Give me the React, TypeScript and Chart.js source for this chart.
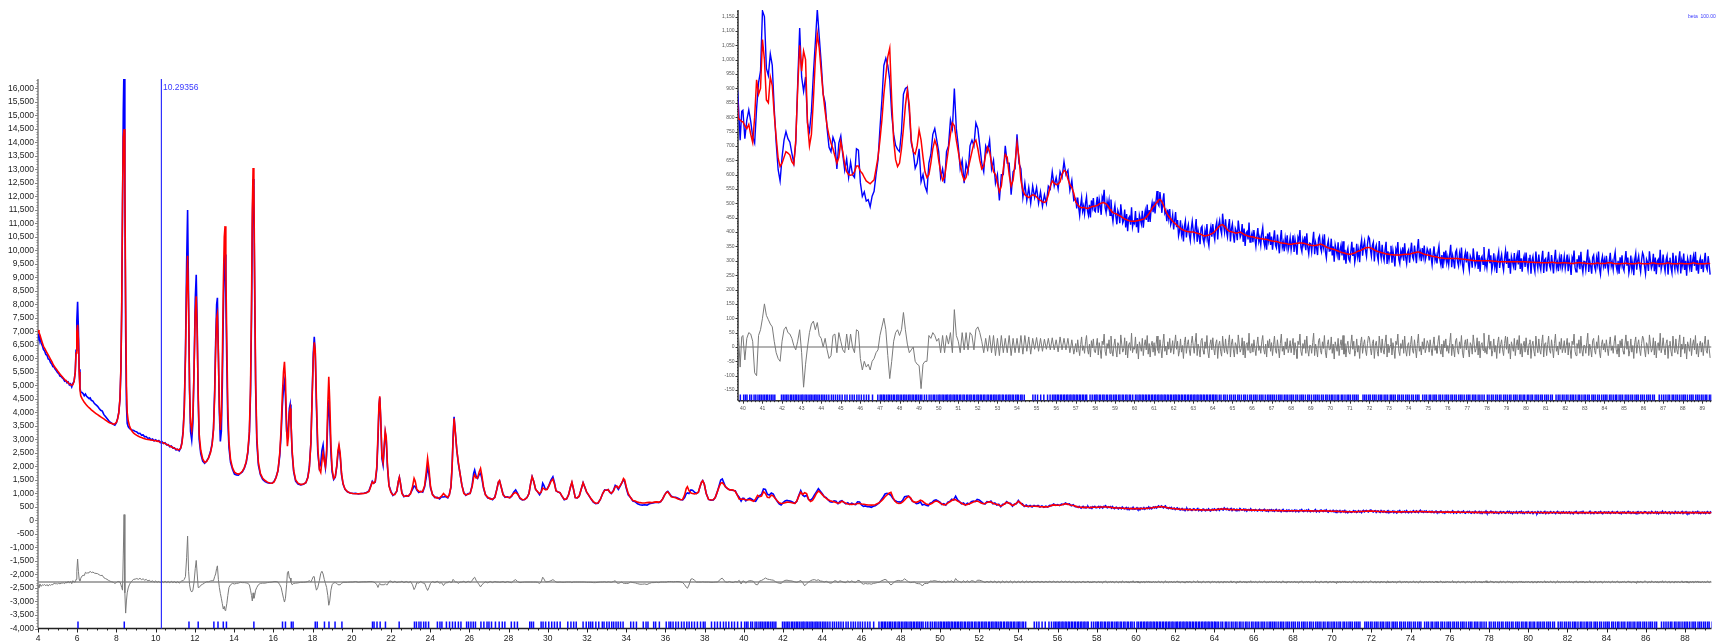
import React, { useEffect, useRef } from 'react';
import { Chart, registerables } from 'chart.js';
Chart.register(...registerables);

// ---------------- DATA (2-theta, observed, calculated) ----------------
const X_1 = [
  4.00, 4.05, 4.10, 4.16, 4.22, 4.28, 4.34, 4.40, 4.46, 4.52,
  4.58, 4.64, 4.70, 4.76, 4.82, 4.88, 4.94, 5.00, 5.06, 5.12,
  5.18, 5.24, 5.30, 5.36, 5.42, 5.48, 5.54, 5.60, 5.66, 5.72,
  5.78, 5.84, 5.90, 5.94, 5.98, 6.02, 6.06, 6.10, 6.14, 6.18,
  6.24, 6.30, 6.36, 6.42, 6.48, 6.54, 6.60, 6.66, 6.72, 6.80,
  6.88, 6.96, 7.04, 7.12, 7.20, 7.28, 7.36, 7.44, 7.52, 7.60,
  7.68, 7.76, 7.84, 7.92, 8.00, 8.06, 8.12, 8.18, 8.23, 8.27,
  8.31, 8.35, 8.39, 8.43, 8.47, 8.51, 8.55, 8.60, 8.66, 8.72,
];
const OBS_1 = [
  6920, 6750, 6800, 6560, 6480, 6330, 6280, 6150, 6120, 5980,
  5960, 5850, 5800, 5700, 5680, 5600, 5540, 5470, 5440, 5350,
  5330, 5280, 5240, 5160, 5180, 5100, 5130, 5020, 5060, 4950,
  5080, 5150, 5500, 6300, 7400, 8100, 7100, 5600, 4900, 4760,
  4740, 4700, 4620, 4680, 4600, 4560, 4520, 4540, 4450, 4420,
  4330, 4280, 4230, 4150, 4080, 4050, 3920, 3850, 3780, 3700,
  3640, 3600, 3560, 3530, 3620, 3780, 4000, 4500, 5600, 7800,
  11500, 15200, 17000, 12200, 7000, 4300, 3600, 3480, 3420, 3380,
];
const CALC_1 = [
  7050, 6960, 6870, 6720, 6580, 6450, 6370, 6290, 6210, 6130,
  6050, 5970, 5890, 5800, 5720, 5660, 5600, 5540, 5480, 5420,
  5370, 5320, 5270, 5220, 5180, 5140, 5100, 5060, 5030, 5010,
  5030, 5150, 5500, 6200, 7000, 7250, 6700, 5500, 4850, 4620,
  4520, 4450, 4380, 4320, 4270, 4220, 4180, 4140, 4100, 4050,
  4000, 3960, 3920, 3880, 3840, 3800, 3760, 3720, 3680, 3640,
  3610, 3590, 3570, 3580, 3640, 3760, 3980, 4500, 5700, 8000,
  11800, 14200, 14500, 12600, 8150, 5000, 4000, 3700, 3520, 3400,
];

const X_2 = [
  8.80, 8.88, 8.96, 9.04, 9.12, 9.20, 9.28, 9.36, 9.44, 9.52,
  9.60, 9.68, 9.76, 9.84, 9.92, 10.00, 10.08, 10.16, 10.24, 10.32,
  10.40, 10.48, 10.56, 10.64, 10.72, 10.80, 10.88, 10.96, 11.04, 11.12,
  11.20, 11.28, 11.34, 11.40, 11.46, 11.52, 11.58, 11.63, 11.68, 11.73,
  11.78, 11.84, 11.90, 11.96, 12.02, 12.07, 12.12, 12.17, 12.22, 12.30,
  12.40, 12.50, 12.60, 12.70, 12.80, 12.88, 12.95, 13.01, 13.06, 13.11,
  13.15, 13.20, 13.25, 13.30, 13.35, 13.40, 13.45, 13.50, 13.54, 13.58,
  13.63, 13.68, 13.74, 13.82, 13.92, 14.02, 14.12, 14.22, 14.32, 14.42,
  14.52, 14.62, 14.70, 14.78, 14.84, 14.89, 14.93, 14.97, 15.01, 15.05,
  15.10, 15.16,
];
const OBS_2 = [
  3350, 3330, 3300, 3280, 3220, 3230, 3160, 3170, 3100, 3110,
  3040, 3060, 2990, 3020, 2950, 2990, 2930, 2960, 2880, 2920,
  2850, 2880, 2800, 2810, 2730, 2760, 2680, 2690, 2610, 2640,
  2580, 2690, 2900, 3300, 4200, 6200, 9500, 11500, 8200, 4800,
  3300, 2980, 3600, 5600, 8200, 9100, 7200, 4500, 3000, 2480,
  2200, 2120, 2200, 2330, 2560, 2850, 3400, 4800, 6600, 8000,
  8250, 6200, 4000, 2930, 3300, 5000, 7600, 9600, 9850, 8300,
  5800, 3700, 2700, 2150, 1900, 1720, 1690, 1680, 1740, 1800,
  1930, 2150, 2500, 3200, 4700, 7500, 10800, 12650, 11800, 8500,
  4900, 2900,
];
const CALC_2 = [
  3300, 3230, 3190, 3150, 3120, 3090, 3070, 3050, 3030, 3010,
  3000, 2990, 2980, 2970, 2960, 2950, 2940, 2930, 2910, 2890,
  2870, 2850, 2820, 2790, 2760, 2730, 2700, 2670, 2645, 2625,
  2620, 2680, 2850, 3250, 4100, 6000, 8600, 9800, 7800, 4900,
  3600, 3350, 3900, 5600, 7700, 8300, 6900, 4700, 3200, 2600,
  2280, 2150, 2190, 2320, 2520, 2800, 3350, 4600, 6300, 7500,
  7650, 6100, 4200, 3350, 3900, 5800, 8600, 10500, 10900, 9300,
  6600, 4200, 2900, 2250, 1950, 1790, 1740, 1720, 1750, 1820,
  1950, 2180, 2550, 3300, 5000, 8000, 11500, 13050, 12400, 9000,
  5200, 3100,
];

const X_3 = [
  15.24, 15.34, 15.46, 15.58, 15.70, 15.82, 15.94, 16.04, 16.14, 16.24,
  16.33, 16.40, 16.46, 16.52, 16.57, 16.62, 16.68, 16.72, 16.77, 16.82,
  16.86, 16.90, 16.96, 17.04, 17.14, 17.26, 17.40, 17.54, 17.66, 17.76,
  17.84, 17.92, 17.98, 18.04, 18.09, 18.14, 18.20, 18.27, 18.35, 18.42,
  18.48, 18.54, 18.60, 18.66, 18.72, 18.78, 18.83, 18.88, 18.94, 19.00,
  19.08, 19.16, 19.24, 19.30, 19.35, 19.41, 19.48, 19.56, 19.66, 19.78,
  19.92, 20.06, 20.20, 20.34, 20.48, 20.62, 20.76, 20.88,
];
const OBS_3 = [
  2050, 1700, 1520, 1440, 1400, 1380, 1380, 1450, 1600, 1850,
  2400, 3200, 4200, 4900, 5140, 4600, 3300, 3100, 3500, 4150,
  4300, 3700, 2500, 1800, 1460, 1350, 1320, 1340, 1400, 1600,
  2000, 2900, 4600, 6200, 6800, 6200, 4200, 2500, 1950, 2100,
  2600, 2800, 2300, 1950, 2400, 3800, 4460, 3700, 2500, 1800,
  1520, 1600, 2000, 2500, 2700, 2400, 1700, 1350, 1150, 1060,
  1020, 1000, 1010, 980, 1000, 1010, 1040, 1100,
];
const CALC_3 = [
  2150, 1750, 1560, 1480, 1420, 1390, 1380, 1430, 1580, 1850,
  2500, 3400, 4600, 5500, 5880, 5200, 3400, 2750, 3100, 4000,
  4150, 3700, 2600, 1850, 1500, 1380, 1330, 1350, 1400, 1580,
  1950, 2900, 4500, 6000, 6600, 6300, 4500, 2700, 1900, 1780,
  2200, 2500, 2200, 2000, 2600, 4300, 5320, 4400, 2800, 1900,
  1550, 1620, 2050, 2600, 2800, 2500, 1750, 1360, 1160, 1070,
  1020, 1000, 990, 990, 995, 1000, 1030, 1080,
];

const X_4 = [
  20.98, 21.05, 21.12, 21.20, 21.28, 21.34, 21.39, 21.43, 21.48, 21.54,
  21.60, 21.66, 21.71, 21.76, 21.82, 21.90, 22.00, 22.10, 22.20, 22.30,
  22.38, 22.43, 22.48, 22.56, 22.66, 22.78, 22.90, 23.00, 23.10, 23.18,
  23.24, 23.32, 23.42, 23.52, 23.62, 23.72, 23.80, 23.87, 23.94, 24.02,
  24.12, 24.24, 24.36, 24.48, 24.58, 24.68, 24.78, 24.90, 24.98, 25.06,
  25.12, 25.17, 25.22, 25.28, 25.36, 25.44, 25.52, 25.62, 25.72, 25.82,
  25.94, 26.04, 26.14, 26.22, 26.27, 26.34, 26.42, 26.50, 26.57, 26.64,
  26.72, 26.82, 26.94, 27.06, 27.18, 27.30, 27.40, 27.48, 27.54, 27.62,
  27.72, 27.82, 27.94,
];
const OBS_4 = [
  1300, 1450, 1380, 1420, 1900, 3000, 4200, 4550, 3700, 2300,
  2050, 2700, 3250, 3000, 2000, 1300, 1080, 930, 990, 1080,
  1450, 1600, 1400, 1030, 880, 920, 900, 1010, 1150, 1280,
  1250, 1130, 1040, 1080, 1050, 1250, 1600, 1990, 1700, 1200,
  970, 850, 860, 800, 880, 870, 890, 840, 970, 1230,
  2000, 3100, 3840, 3300, 2600, 2100, 1750, 1300, 1030, 930,
  1000, 1000, 1300, 1750, 1870, 1650, 1560, 1700, 1750, 1550,
  1200, 960, 830, 820, 770, 870, 1150, 1420, 1470, 1250,
  970, 860, 880,
];
const CALC_4 = [
  1280, 1430, 1380, 1450, 2000, 3200, 4300, 4600, 3800, 2400,
  2150, 2800, 3310, 3100, 2100, 1280, 1040, 950, 960, 1100,
  1450, 1600, 1400, 1000, 900, 900, 920, 990, 1250, 1560,
  1450, 1150, 1080, 1060, 1080, 1300, 1800, 2300, 1900, 1250,
  950, 870, 830, 840, 900, 1000, 920, 860, 950, 1250,
  2000, 3000, 3780, 3300, 2600, 2150, 1750, 1300, 1000, 950,
  970, 1010, 1250, 1600, 1690, 1580, 1580, 1800, 1930, 1650,
  1250, 950, 860, 800, 790, 850, 1150, 1420, 1480, 1250,
  950, 880, 860,
];

const X_5 = [
  28.06, 28.16, 28.26, 28.36, 28.46, 28.58, 28.70, 28.82, 28.94, 29.04,
  29.12, 29.20, 29.28, 29.38, 29.48, 29.58, 29.66, 29.74, 29.80, 29.88,
  29.96, 30.06, 30.16, 30.26, 30.34, 30.42, 30.52, 30.62, 30.72, 30.84,
  30.96, 31.06, 31.16, 31.23, 31.30, 31.40, 31.50, 31.60, 31.70, 31.80,
  31.88, 31.98, 32.08, 32.20, 32.32, 32.44, 32.56, 32.68, 32.80, 32.90,
  33.00, 33.08, 33.16, 33.24, 33.34, 33.44, 33.52, 33.60, 33.70, 33.78,
  33.86, 33.92, 34.00,
];
const OBS_5 = [
  840, 900, 1050, 1130, 1000, 820, 760, 780, 850, 1000,
  1350, 1620, 1450, 1150, 1060, 950, 1050, 1380, 1300, 1150,
  1160, 1300, 1500, 1620, 1400, 1100, 1050, 1030, 900, 770,
  800, 950, 1250, 1400, 1200, 850, 840, 900, 1150, 1400,
  1250, 1050, 940, 800, 680, 620, 640, 780, 1000, 1130,
  1120, 1150, 1050, 1000, 1100, 1300, 1250, 1150, 1280, 1400,
  1500, 1450, 1200,
];
const CALC_5 = [
  850, 920, 1000, 1040, 980, 840, 770, 780, 850, 1000,
  1350, 1620, 1450, 1150, 1070, 1000, 1050, 1200, 1180, 1140,
  1150, 1280, 1450, 1530, 1350, 1100, 1060, 1030, 910, 780,
  800, 950, 1250, 1420, 1200, 850, 840, 900, 1150, 1400,
  1250, 1060, 950, 810, 700, 640, 650, 780, 1000, 1120,
  1130, 1140, 1050, 1010, 1080, 1250, 1280, 1200, 1300, 1400,
  1550, 1500, 1250,
];

const X_6 = [
  34.10, 34.22, 34.34, 34.46, 34.58, 34.70, 34.82, 34.94, 35.06, 35.18,
  35.30, 35.42, 35.54, 35.66, 35.76, 35.86, 35.96, 36.06, 36.12, 36.20,
  36.30, 36.40, 36.52, 36.64, 36.76, 36.88, 36.98, 37.06, 37.12, 37.20,
  37.30, 37.38, 37.48, 37.58, 37.68, 37.76, 37.84, 37.90, 37.98, 38.08,
  38.20, 38.32, 38.44, 38.54, 38.64, 38.74, 38.82, 38.90, 38.98, 39.06,
  39.16, 39.26, 39.36, 39.46, 39.56, 39.66, 39.76, 39.86, 39.94,
];
const OBS_6 = [
  950, 850, 720, 690, 620, 580, 570, 580, 570, 620,
  640, 660, 680, 660, 700, 800, 950, 1050, 1080, 1000,
  900, 870, 860, 820, 780, 760, 850, 990, 1020, 1000,
  1130, 1120, 1050, 1000, 1050, 1250, 1420, 1480, 1350, 1000,
  780, 750, 760, 850, 1050, 1300, 1500, 1540, 1400, 1250,
  1180, 1150, 1130, 1110, 1100, 950, 860, 720, 820,
];
const CALC_6 = [
  1000, 850, 740, 720, 680, 660, 650, 650, 660, 670,
  660, 680, 690, 680, 700, 800, 950, 1050, 1060, 980,
  880, 860, 840, 800, 770, 780, 950, 1180, 1250, 1110,
  1020, 1000, 980, 1000, 1050, 1250, 1420, 1470, 1350, 1000,
  780, 760, 770, 850, 1050, 1250, 1380, 1400, 1330, 1250,
  1190, 1130, 1140, 1130, 1080, 950, 796, 790, 785,
];

// 40.0 - 56.9, step 0.1
const X_7 = [
  40.0, 40.1, 40.2, 40.3, 40.4, 40.5, 40.6, 40.7, 40.8, 40.9,
  41.0, 41.1, 41.2, 41.3, 41.4, 41.5, 41.6, 41.7, 41.8, 41.9,
  42.0, 42.1, 42.2, 42.3, 42.4, 42.5, 42.6, 42.7, 42.8, 42.9,
  43.0, 43.1, 43.2, 43.3, 43.4, 43.5, 43.6, 43.7, 43.8, 43.9,
  44.0, 44.1, 44.2, 44.3, 44.4, 44.5, 44.6, 44.7, 44.8, 44.9,
  45.0, 45.1, 45.2, 45.3, 45.4, 45.5, 45.6, 45.7, 45.8, 45.9,
  46.0, 46.1, 46.2, 46.3, 46.4, 46.5, 46.6, 46.7, 46.8, 46.9,
  47.0, 47.1, 47.2, 47.3, 47.4, 47.5, 47.6, 47.7, 47.8, 47.9,
  48.0, 48.1, 48.2, 48.3, 48.4, 48.5, 48.6, 48.7, 48.8, 48.9,
  49.0, 49.1, 49.2, 49.3, 49.4, 49.5, 49.6, 49.7, 49.8, 49.9,
  50.0, 50.1, 50.2, 50.3, 50.4, 50.5, 50.6, 50.7, 50.8, 50.9,
  51.0, 51.1, 51.2, 51.3, 51.4, 51.5, 51.6, 51.7, 51.8, 51.9,
  52.0, 52.1, 52.2, 52.3, 52.4, 52.5, 52.6, 52.7, 52.8, 52.9,
  53.0, 53.1, 53.2, 53.3, 53.4, 53.5, 53.6, 53.7, 53.8, 53.9,
  54.0, 54.1, 54.2, 54.3, 54.4, 54.5, 54.6, 54.7, 54.8, 54.9,
  55.0, 55.1, 55.2, 55.3, 55.4, 55.5, 55.6, 55.7, 55.8, 55.9,
  56.0, 56.1, 56.2, 56.3, 56.4, 56.5, 56.6, 56.7, 56.8, 56.9,
];
const OBS_7 = [
  824, 725, 790, 825, 785, 732, 710, 830, 920, 960,
  1170, 1150, 970, 945, 1020, 980, 830, 710, 617, 578,
  660, 720, 750, 725, 713, 675, 640, 710, 920, 1110,
  940, 890, 940, 780, 750, 820, 950, 1060, 1175, 1080,
  988, 880, 850, 760, 695, 680, 730, 710, 620, 710,
  735, 670, 615, 655, 590, 643, 600, 590, 690, 685,
  572, 524, 540, 508, 513, 488, 525, 542, 600, 650,
  760, 860, 980, 1005, 980, 930, 810, 740, 702, 688,
  680, 750, 880, 900, 905, 820, 710, 680, 622, 640,
  690, 575, 600, 560, 540, 640, 670, 740, 760, 720,
  680, 590, 620, 570, 680, 700, 790, 760, 900, 760,
  700, 620, 650, 570, 640, 610, 700, 720, 700, 780,
  760, 700, 640, 610, 700, 680, 720, 620, 650, 570,
  600, 510, 600, 600, 700, 640, 640, 530, 610, 620,
  740, 640, 620, 520, 570, 510, 555, 500, 560, 520,
  555, 500, 540, 490, 530, 500, 560, 550, 610, 560,
  590, 550, 610, 590, 645, 600, 615, 545, 580, 510,
];
const CALC_7 = [
  784, 770, 760, 775, 740, 712, 800, 930, 880, 900,
  1070, 1000, 860, 850, 940, 910, 810, 730, 657, 628,
  640, 660, 680, 675, 668, 645, 635, 720, 900, 1050,
  960, 1030, 1000, 780, 700, 740, 860, 1000, 1090, 1040,
  958, 880, 820, 770, 735, 710, 690, 665, 640, 660,
  715, 680, 635, 610, 600, 598, 600, 610, 630, 630,
  612, 604, 590, 578, 573, 568, 575, 582, 620, 660,
  720, 790, 880, 945, 1010, 1040, 860, 720, 652, 628,
  640, 690, 760, 840, 895, 840, 720, 680, 672, 700,
  755, 720, 660, 610, 590, 600, 640, 690, 720, 700,
  650, 610, 580, 590, 640, 690, 740, 780, 770, 720,
  680, 640, 600, 580, 590, 620, 650, 680, 710, 720,
  690, 650, 620, 630, 670, 695, 680, 640, 610, 600,
  570, 540, 560, 620, 670, 660, 600, 560, 580, 640,
  710, 660, 580, 545, 530, 525, 520, 525, 530, 528,
  522, 515, 510, 505, 503, 508, 530, 560, 578, 570,
  565, 567, 575, 600, 615, 610, 585, 565, 555, 535,
];

// 57.00 - 89.40, step 0.05
const X_8 = [
  57.00, 57.05, 57.10, 57.15, 57.20, 57.25, 57.30, 57.35, 57.40, 57.45, 57.50, 57.55, 57.60, 57.65, 57.70, 57.75, 57.80, 57.85, 57.90, 57.95,
  58.00, 58.05, 58.10, 58.15, 58.20, 58.25, 58.30, 58.35, 58.40, 58.45, 58.50, 58.55, 58.60, 58.65, 58.70, 58.75, 58.80, 58.85, 58.90, 58.95,
  59.00, 59.05, 59.10, 59.15, 59.20, 59.25, 59.30, 59.35, 59.40, 59.45, 59.50, 59.55, 59.60, 59.65, 59.70, 59.75, 59.80, 59.85, 59.90, 59.95,
  60.00, 60.05, 60.10, 60.15, 60.20, 60.25, 60.30, 60.35, 60.40, 60.45, 60.50, 60.55, 60.60, 60.65, 60.70, 60.75, 60.80, 60.85, 60.90, 60.95,
  61.00, 61.05, 61.10, 61.15, 61.20, 61.25, 61.30, 61.35, 61.40, 61.45, 61.50, 61.55, 61.60, 61.65, 61.70, 61.75, 61.80, 61.85, 61.90, 61.95,
  62.00, 62.05, 62.10, 62.15, 62.20, 62.25, 62.30, 62.35, 62.40, 62.45, 62.50, 62.55, 62.60, 62.65, 62.70, 62.75, 62.80, 62.85, 62.90, 62.95,
  63.00, 63.05, 63.10, 63.15, 63.20, 63.25, 63.30, 63.35, 63.40, 63.45, 63.50, 63.55, 63.60, 63.65, 63.70, 63.75, 63.80, 63.85, 63.90, 63.95,
  64.00, 64.05, 64.10, 64.15, 64.20, 64.25, 64.30, 64.35, 64.40, 64.45, 64.50, 64.55, 64.60, 64.65, 64.70, 64.75, 64.80, 64.85, 64.90, 64.95,
  65.00, 65.05, 65.10, 65.15, 65.20, 65.25, 65.30, 65.35, 65.40, 65.45, 65.50, 65.55, 65.60, 65.65, 65.70, 65.75, 65.80, 65.85, 65.90, 65.95,
  66.00, 66.05, 66.10, 66.15, 66.20, 66.25, 66.30, 66.35, 66.40, 66.45, 66.50, 66.55, 66.60, 66.65, 66.70, 66.75, 66.80, 66.85, 66.90, 66.95,
  67.00, 67.05, 67.10, 67.15, 67.20, 67.25, 67.30, 67.35, 67.40, 67.45, 67.50, 67.55, 67.60, 67.65, 67.70, 67.75, 67.80, 67.85, 67.90, 67.95,
  68.00, 68.05, 68.10, 68.15, 68.20, 68.25, 68.30, 68.35, 68.40, 68.45, 68.50, 68.55, 68.60, 68.65, 68.70, 68.75, 68.80, 68.85, 68.90, 68.95,
  69.00, 69.05, 69.10, 69.15, 69.20, 69.25, 69.30, 69.35, 69.40, 69.45, 69.50, 69.55, 69.60, 69.65, 69.70, 69.75, 69.80, 69.85, 69.90, 69.95,
  70.00, 70.05, 70.10, 70.15, 70.20, 70.25, 70.30, 70.35, 70.40, 70.45, 70.50, 70.55, 70.60, 70.65, 70.70, 70.75, 70.80, 70.85, 70.90, 70.95,
  71.00, 71.05, 71.10, 71.15, 71.20, 71.25, 71.30, 71.35, 71.40, 71.45, 71.50, 71.55, 71.60, 71.65, 71.70, 71.75, 71.80, 71.85, 71.90, 71.95,
  72.00, 72.05, 72.10, 72.15, 72.20, 72.25, 72.30, 72.35, 72.40, 72.45, 72.50, 72.55, 72.60, 72.65, 72.70, 72.75, 72.80, 72.85, 72.90, 72.95,
  73.00, 73.05, 73.10, 73.15, 73.20, 73.25, 73.30, 73.35, 73.40, 73.45, 73.50, 73.55, 73.60, 73.65, 73.70, 73.75, 73.80, 73.85, 73.90, 73.95,
  74.00, 74.05, 74.10, 74.15, 74.20, 74.25, 74.30, 74.35, 74.40, 74.45, 74.50, 74.55, 74.60, 74.65, 74.70, 74.75, 74.80, 74.85, 74.90, 74.95,
  75.00, 75.05, 75.10, 75.15, 75.20, 75.25, 75.30, 75.35, 75.40, 75.45, 75.50, 75.55, 75.60, 75.65, 75.70, 75.75, 75.80, 75.85, 75.90, 75.95,
  76.00, 76.05, 76.10, 76.15, 76.20, 76.25, 76.30, 76.35, 76.40, 76.45, 76.50, 76.55, 76.60, 76.65, 76.70, 76.75, 76.80, 76.85, 76.90, 76.95,
  77.00, 77.05, 77.10, 77.15, 77.20, 77.25, 77.30, 77.35, 77.40, 77.45, 77.50, 77.55, 77.60, 77.65, 77.70, 77.75, 77.80, 77.85, 77.90, 77.95,
  78.00, 78.05, 78.10, 78.15, 78.20, 78.25, 78.30, 78.35, 78.40, 78.45, 78.50, 78.55, 78.60, 78.65, 78.70, 78.75, 78.80, 78.85, 78.90, 78.95,
  79.00, 79.05, 79.10, 79.15, 79.20, 79.25, 79.30, 79.35, 79.40, 79.45, 79.50, 79.55, 79.60, 79.65, 79.70, 79.75, 79.80, 79.85, 79.90, 79.95,
  80.00, 80.05, 80.10, 80.15, 80.20, 80.25, 80.30, 80.35, 80.40, 80.45, 80.50, 80.55, 80.60, 80.65, 80.70, 80.75, 80.80, 80.85, 80.90, 80.95,
  81.00, 81.05, 81.10, 81.15, 81.20, 81.25, 81.30, 81.35, 81.40, 81.45, 81.50, 81.55, 81.60, 81.65, 81.70, 81.75, 81.80, 81.85, 81.90, 81.95,
  82.00, 82.05, 82.10, 82.15, 82.20, 82.25, 82.30, 82.35, 82.40, 82.45, 82.50, 82.55, 82.60, 82.65, 82.70, 82.75, 82.80, 82.85, 82.90, 82.95,
  83.00, 83.05, 83.10, 83.15, 83.20, 83.25, 83.30, 83.35, 83.40, 83.45, 83.50, 83.55, 83.60, 83.65, 83.70, 83.75, 83.80, 83.85, 83.90, 83.95,
  84.00, 84.05, 84.10, 84.15, 84.20, 84.25, 84.30, 84.35, 84.40, 84.45, 84.50, 84.55, 84.60, 84.65, 84.70, 84.75, 84.80, 84.85, 84.90, 84.95,
  85.00, 85.05, 85.10, 85.15, 85.20, 85.25, 85.30, 85.35, 85.40, 85.45, 85.50, 85.55, 85.60, 85.65, 85.70, 85.75, 85.80, 85.85, 85.90, 85.95,
  86.00, 86.05, 86.10, 86.15, 86.20, 86.25, 86.30, 86.35, 86.40, 86.45, 86.50, 86.55, 86.60, 86.65, 86.70, 86.75, 86.80, 86.85, 86.90, 86.95,
  87.00, 87.05, 87.10, 87.15, 87.20, 87.25, 87.30, 87.35, 87.40, 87.45, 87.50, 87.55, 87.60, 87.65, 87.70, 87.75, 87.80, 87.85, 87.90, 87.95,
  88.00, 88.05, 88.10, 88.15, 88.20, 88.25, 88.30, 88.35, 88.40, 88.45, 88.50, 88.55, 88.60, 88.65, 88.70, 88.75, 88.80, 88.85, 88.90, 88.95,
  89.00, 89.05, 89.10, 89.15, 89.20, 89.25, 89.30, 89.35, 89.40,
];
const OBS_8 = [
  517, 482, 520, 486, 458, 494, 520, 473, 490, 463, 502, 523, 474, 458, 495, 451, 510, 486, 518, 475,
  471, 497, 523, 467, 513, 491, 460, 522, 511, 547, 485, 468, 507, 485, 510, 458, 513, 461, 436, 472,
  493, 454, 427, 475, 463, 431, 497, 462, 432, 442, 478, 416, 463, 403, 448, 454, 426, 486, 418, 436,
  430, 473, 417, 449, 398, 459, 444, 428, 474, 415, 452, 474, 442, 496, 435, 477, 435, 481, 502, 469,
  506, 465, 508, 543, 498, 491, 539, 505, 467, 510, 535, 466, 475, 438, 478, 447, 480, 426, 438, 460,
  409, 441, 470, 417, 442, 387, 404, 441, 392, 413, 367, 420, 439, 381, 410, 426, 391, 370, 412, 438,
  405, 377, 413, 445, 366, 405, 386, 358, 414, 420, 376, 362, 404, 382, 428, 371, 352, 399, 418, 384,
  428, 394, 374, 418, 435, 374, 424, 441, 409, 393, 464, 425, 400, 444, 402, 383, 420, 445, 367, 411,
  428, 389, 363, 412, 402, 372, 440, 409, 382, 392, 428, 366, 412, 352, 397, 402, 374, 433, 365, 382,
  396, 365, 407, 376, 350, 387, 414, 366, 382, 355, 395, 416, 368, 350, 385, 339, 395, 369, 399, 355,
  384, 339, 376, 406, 355, 345, 391, 360, 326, 375, 407, 347, 364, 333, 378, 352, 389, 338, 354, 380,
  338, 363, 389, 331, 375, 352, 321, 381, 370, 407, 347, 332, 373, 356, 385, 337, 396, 347, 324, 361,
  359, 331, 368, 401, 323, 363, 346, 320, 378, 387, 346, 332, 374, 349, 392, 332, 310, 354, 370, 334,
  335, 377, 319, 350, 297, 356, 339, 320, 364, 302, 337, 355, 319, 368, 302, 338, 290, 329, 344, 305,
  298, 333, 366, 317, 346, 295, 317, 359, 315, 339, 295, 351, 373, 318, 350, 368, 335, 315, 358, 384,
  378, 340, 316, 354, 365, 298, 342, 354, 318, 300, 369, 332, 309, 356, 317, 301, 340, 366, 289, 333,
  303, 327, 352, 293, 336, 312, 280, 340, 328, 365, 305, 290, 333, 316, 347, 300, 361, 313, 291, 329,
  338, 293, 332, 363, 314, 305, 353, 324, 292, 343, 376, 315, 332, 299, 344, 316, 353, 302, 317, 342,
  332, 301, 343, 312, 286, 323, 350, 302, 318, 291, 330, 351, 303, 285, 320, 274, 331, 305, 336, 293,
  313, 286, 323, 356, 278, 318, 300, 273, 330, 338, 296, 282, 325, 301, 346, 287, 267, 313, 330, 294,
  332, 293, 268, 317, 307, 276, 343, 310, 282, 294, 332, 272, 320, 262, 308, 315, 288, 348, 280, 298,
  275, 310, 342, 292, 319, 267, 287, 326, 280, 303, 258, 312, 332, 275, 305, 322, 287, 267, 309, 335,
  289, 332, 275, 307, 255, 315, 299, 282, 327, 267, 303, 322, 287, 337, 272, 309, 262, 302, 317, 279,
  329, 291, 268, 308, 321, 255, 301, 315, 280, 262, 332, 296, 274, 322, 284, 268, 308, 335, 258, 303,
  308, 263, 301, 331, 282, 272, 320, 290, 256, 306, 338, 277, 295, 264, 310, 284, 323, 273, 289, 315,
  273, 297, 322, 264, 307, 283, 251, 311, 299, 336, 277, 262, 305, 288, 319, 271, 331, 282, 260, 298,
  297, 269, 306, 339, 261, 300, 282, 255, 312, 320, 279, 266, 310, 287, 332, 273, 253, 299, 316, 281,
  303, 273, 317, 287, 263, 301, 328, 281, 296, 269, 309, 330, 282, 265, 300, 255, 312, 287, 319, 276,
  266, 301, 334, 283, 311, 258, 278, 318, 272, 295, 250, 305, 326, 269, 300, 317, 282, 261, 303, 328,
  318, 280, 255, 305, 295, 265, 333, 301, 274, 286, 324, 264, 311, 253, 298, 305, 278, 338, 270, 288,
  322, 285, 263, 303, 317, 252, 298, 311, 276, 258, 328, 292, 270, 318, 280, 265, 306, 333, 256, 301,
  283, 325, 268, 300, 248, 308, 292, 275, 321, 261, 298, 317, 282, 331, 266, 302, 255, 295, 310, 272,
  305, 260, 298, 328, 279, 269, 316, 286, 252,
];
const CALC_8 = [
  505, 500, 495, 491, 488, 486, 485, 485, 486, 485, 484, 483, 482, 483, 485, 486, 488, 489, 490, 490,
  491, 492, 493, 495, 498, 499, 500, 502, 503, 502, 500, 498, 495, 490, 485, 480, 475, 471, 468, 466,
  465, 464, 462, 460, 458, 456, 455, 452, 450, 448, 446, 444, 443, 441, 440, 439, 438, 438, 438, 438,
  438, 438, 439, 439, 440, 441, 442, 443, 444, 445, 446, 449, 452, 456, 460, 465, 470, 476, 482, 487,
  491, 495, 500, 505, 510, 513, 514, 510, 505, 498, 490, 481, 472, 466, 460, 455, 450, 446, 442, 438,
  434, 431, 428, 425, 422, 419, 416, 413, 410, 408, 407, 405, 404, 403, 402, 401, 401, 400, 400, 400,
  400, 399, 398, 397, 396, 395, 394, 393, 392, 390, 388, 387, 386, 387, 388, 389, 390, 391, 393, 394,
  396, 399, 402, 406, 410, 414, 418, 421, 424, 425, 426, 423, 420, 416, 412, 408, 405, 403, 402, 401,
  400, 399, 398, 397, 397, 397, 398, 399, 400, 398, 396, 394, 392, 390, 389, 387, 386, 385, 385, 384,
  384, 383, 382, 381, 380, 379, 379, 378, 378, 377, 377, 376, 376, 375, 375, 374, 373, 372, 371, 370,
  369, 369, 368, 368, 367, 367, 366, 365, 364, 363, 362, 362, 361, 361, 360, 360, 359, 358, 358, 358,
  358, 358, 359, 359, 360, 360, 361, 361, 362, 362, 362, 362, 361, 361, 360, 359, 358, 357, 356, 355,
  354, 353, 353, 353, 353, 353, 354, 355, 356, 357, 358, 357, 356, 354, 352, 350, 348, 346, 345, 344,
  343, 342, 341, 340, 339, 338, 337, 335, 334, 332, 331, 330, 329, 328, 327, 326, 325, 324, 324, 323,
  323, 323, 324, 325, 326, 327, 329, 331, 333, 334, 335, 336, 338, 340, 342, 343, 345, 345, 346, 346,
  346, 345, 344, 342, 340, 338, 336, 334, 333, 332, 331, 330, 329, 328, 327, 326, 325, 324, 324, 323,
  323, 322, 322, 321, 321, 320, 320, 320, 320, 320, 320, 320, 321, 321, 322, 322, 323, 323, 323, 323,
  323, 323, 324, 325, 326, 327, 328, 329, 330, 331, 331, 330, 329, 327, 326, 324, 323, 322, 321, 320,
  320, 319, 318, 317, 316, 315, 315, 314, 314, 313, 312, 311, 311, 310, 310, 309, 309, 308, 308, 308,
  308, 308, 308, 308, 308, 308, 308, 308, 308, 308, 308, 307, 307, 306, 306, 305, 305, 305, 305, 304,
  304, 303, 303, 302, 302, 301, 301, 300, 300, 300, 300, 300, 300, 300, 300, 300, 300, 300, 300, 300,
  300, 300, 300, 300, 299, 299, 299, 298, 298, 298, 298, 297, 297, 297, 297, 297, 297, 297, 297, 297,
  297, 297, 297, 297, 297, 297, 297, 297, 297, 297, 297, 297, 297, 297, 297, 297, 297, 297, 297, 297,
  297, 296, 296, 296, 296, 295, 295, 295, 295, 294, 294, 294, 294, 294, 294, 293, 293, 293, 293, 293,
  293, 293, 293, 293, 294, 294, 295, 295, 294, 294, 293, 292, 292, 292, 292, 292, 293, 293, 293, 293,
  293, 292, 292, 292, 292, 291, 291, 291, 291, 291, 292, 292, 293, 293, 294, 293, 293, 292, 292, 292,
  292, 291, 291, 291, 291, 290, 290, 290, 290, 290, 291, 291, 292, 292, 292, 291, 291, 291, 291, 291,
  291, 291, 292, 292, 293, 293, 293, 293, 292, 291, 291, 290, 290, 290, 290, 290, 290, 290, 291, 291,
  291, 291, 292, 291, 291, 290, 290, 290, 290, 290, 290, 290, 291, 291, 292, 292, 292, 291, 291, 290,
  290, 290, 290, 290, 290, 290, 291, 291, 292, 292, 292, 292, 291, 291, 290, 290, 290, 290, 290, 290,
  290, 290, 291, 291, 292, 292, 292, 291, 291, 290, 290, 290, 290, 290, 290, 290, 291, 291, 291, 291,
  291, 290, 290, 290, 290, 290, 290, 290, 291, 291, 292, 292, 292, 291, 291, 290, 290, 290, 290, 290,
  290, 290, 290, 290, 291, 291, 291, 291, 290,
];

// Bragg reflection positions (2-theta)
const REFL_LOW = [
  6.04, 8.40, 11.70, 12.17, 12.97, 13.18, 13.45, 13.61, 15.01, 16.47, 16.62, 16.92, 17.01,
  18.14, 18.24, 18.61, 18.84, 19.15, 19.50, 21.06, 21.14, 21.29, 21.45, 21.72, 22.42,
  23.20, 23.30, 23.43, 23.53, 23.67, 23.78, 23.92, 24.37, 24.50, 24.60, 24.83, 24.99,
  25.14, 25.28, 25.44, 25.57, 25.86, 25.96, 26.08, 26.20, 26.31, 26.59, 26.74, 26.90,
  27.00, 27.13, 27.33, 27.52, 27.68, 27.81, 28.14, 28.30, 28.45, 29.08, 29.17, 29.27,
  29.66, 29.76, 29.89, 30.05, 30.20, 30.34, 30.48, 30.63, 31.02, 31.18, 31.32, 31.45,
  31.80, 31.96, 32.09, 32.19, 32.29, 32.45, 32.60, 32.78, 32.87, 33.01, 33.13, 33.26,
  33.36, 33.48, 33.59, 33.71, 33.84, 34.23, 34.37, 34.52, 34.87, 35.01, 35.11, 35.40,
  35.50, 35.69, 36.04, 36.18, 36.27, 36.39, 36.53, 36.66, 36.82, 36.95, 37.09, 37.21,
  37.34, 37.48, 37.63, 37.79, 37.93, 38.02, 38.35, 38.51, 38.65, 38.80, 38.96, 39.09,
  39.23, 39.38, 39.52, 39.68, 39.87,
];
const REFL_HIGH = [
  40.04, 40.13, 40.21, 40.35, 40.44, 40.57, 40.66, 40.77, 40.86, 40.94,
  41.03, 41.11, 41.20, 41.27, 41.37, 41.46, 41.54, 41.63, 41.97,
  42.06, 42.15, 42.23, 42.31, 42.42, 42.49, 42.58, 42.67, 42.74, 42.83, 42.92,
  43.01, 43.07, 43.17, 43.24, 43.33, 43.42, 43.49, 43.58, 43.67, 43.74, 43.83, 43.91,
  44.01, 44.09, 44.18, 44.28, 44.39, 44.52, 44.62, 44.73, 44.84, 44.95,
  45.07, 45.21, 45.32, 45.46, 45.58, 45.69, 45.82, 45.93,
  46.05, 46.18, 46.31, 46.43, 46.62, 46.89,
  47.01, 47.08, 47.17, 47.23, 47.33, 47.42, 47.49, 47.58, 47.68, 47.75, 47.86, 47.93,
  48.03, 48.11, 48.21, 48.28, 48.37, 48.47, 48.54, 48.64, 48.71, 48.81, 48.88, 48.97,
  49.06, 49.14, 49.27, 49.38, 49.51, 49.61, 49.72, 49.80, 49.91,
  50.01, 50.07, 50.17, 50.24, 50.33, 50.41, 50.47, 50.57, 50.63, 50.73, 50.80, 50.89, 50.96,
  51.06, 51.13, 51.24, 51.31, 51.42, 51.49, 51.59, 51.66, 51.77, 51.84, 51.95,
  52.02, 52.12, 52.19, 52.29, 52.36, 52.47, 52.54, 52.64, 52.71, 52.81, 52.88, 52.97,
  53.07, 53.13, 53.24, 53.30, 53.41, 53.48, 53.58, 53.65, 53.75, 53.82, 53.93,
  54.01, 54.08, 54.19, 54.26, 54.37, 54.81, 54.93,
  55.05, 55.21, 55.37, 55.56, 55.69, 55.81, 55.89, 55.97,
  56.06, 56.12, 56.22, 56.28, 56.38, 56.44, 56.54, 56.60, 56.70, 56.76, 56.86, 56.92,
  57.02, 57.08, 57.18, 57.24, 57.34, 57.40, 57.50, 57.56, 57.73, 57.84, 57.95,
  58.03, 58.09, 58.20, 58.27, 58.38, 58.45, 58.56, 58.63, 58.74, 58.81, 58.92,
  59.01, 59.08, 59.19, 59.26, 59.37, 59.44, 59.55, 59.62, 59.73, 59.80, 59.91,
  60.05, 60.13, 60.23, 60.29, 60.39, 60.45, 60.55, 60.61, 60.71, 60.77, 60.87, 60.93,
  61.03, 61.09, 61.19, 61.25, 61.35, 61.41, 61.51, 61.57, 61.67, 61.73, 61.83, 61.89, 61.99,
  62.07, 62.13, 62.23, 62.29, 62.39, 62.45, 62.55, 62.61, 62.71, 62.77, 62.87, 62.93,
  63.03, 63.09, 63.19, 63.25, 63.35, 63.41, 63.51, 63.57, 63.67, 63.73, 63.83, 63.89, 63.99,
  64.04, 64.13, 64.21, 64.33, 64.42, 64.55, 64.63, 64.74, 64.86, 64.95,
  65.06, 65.15, 65.27, 65.35, 65.46, 65.58, 65.66, 65.77, 65.89, 65.97,
  66.08, 66.17, 66.26, 66.38, 66.47, 66.56, 66.68, 66.79, 66.87, 66.96,
  67.05, 67.14, 67.25, 67.36, 67.44, 67.53, 67.65, 67.74, 67.83, 67.94,
  68.03, 68.12, 68.24, 68.33, 68.45, 68.54, 68.62, 68.73, 68.85, 68.93,
  69.04, 69.16, 69.25, 69.34, 69.43, 69.55, 69.64, 69.76, 69.84, 69.95,
  70.05, 70.13, 70.24, 70.35, 70.43, 70.56, 70.64, 70.75, 70.86, 70.94,
  71.03, 71.15, 71.24, 71.33, 71.42, 71.67, 71.76, 71.85, 71.96,
  72.04, 72.16, 72.25, 72.34, 72.46, 72.55, 72.63, 72.75, 72.84, 72.93,
  73.06, 73.14, 73.23, 73.32, 73.45, 73.53, 73.64, 73.73, 73.85, 73.94,
  74.03, 74.15, 74.24, 74.36, 74.45, 74.53, 74.72, 74.83, 74.92,
  75.05, 75.13, 75.25, 75.34, 75.42, 75.55, 75.63, 75.74, 75.86, 75.95,
  76.04, 76.16, 76.24, 76.35, 76.44, 76.56, 76.65, 76.73, 76.84, 76.96,
  77.05, 77.13, 77.26, 77.34, 77.43, 77.55, 77.64, 77.75, 77.86, 78.02,
  78.11, 78.23, 78.32, 78.44, 78.53, 78.64, 78.72, 78.85, 78.94,
  79.04, 79.15, 79.23, 79.36, 79.45, 79.54, 79.66, 79.74, 79.85, 79.93,
  80.06, 80.14, 80.25, 80.33, 80.46, 80.55, 80.64, 80.75, 80.83, 80.95,
  81.04, 81.13, 81.25, 81.34, 81.53, 81.64, 81.73, 81.85, 81.94,
  82.05, 82.14, 82.26, 82.35, 82.43, 82.54, 82.66, 82.74, 82.85, 82.96,
  83.04, 83.15, 83.23, 83.36, 83.44, 83.53, 83.65, 83.74, 83.86, 83.96,
  84.05, 84.13, 84.26, 84.34, 84.45, 84.56, 84.63, 84.75, 84.84, 84.93,
  85.06, 85.15, 85.24, 85.35, 85.44, 85.56, 85.65, 85.73, 85.85, 85.94,
  86.04, 86.16, 86.25, 86.34, 86.46, 86.55, 86.80, 86.92,
  87.03, 87.14, 87.25, 87.33, 87.46, 87.54, 87.65, 87.74, 87.85, 87.96,
  88.05, 88.13, 88.24, 88.36, 88.45, 88.53, 88.66, 88.75, 88.84, 88.95,
  89.04, 89.15, 89.23, 89.36, 89.44,
];

// Tick labels
const MAIN_X_TICKS = [4, 6, 8, 10, 12, 14, 16, 18, 20, 22, 24, 26, 28, 30, 32, 34, 36, 38, 40, 42, 44, 46, 48, 50,
  52, 54, 56, 58, 60, 62, 64, 66, 68, 70, 72, 74, 76, 78, 80, 82, 84, 86, 88];
const MAIN_Y_TICKS = [-4000, -3500, -3000, -2500, -2000, -1500, -1000, -500, 0, 500, 1000, 1500, 2000, 2500, 3000,
  3500, 4000, 4500, 5000, 5500, 6000, 6500, 7000, 7500, 8000, 8500, 9000, 9500, 10000, 10500, 11000, 11500,
  12000, 12500, 13000, 13500, 14000, 14500, 15000, 15500, 16000];
const INSET_X_TICKS = [40, 41, 42, 43, 44, 45, 46, 47, 48, 49, 50, 51, 52, 53, 54, 55, 56, 57, 58, 59, 60, 61, 62,
  63, 64, 65, 66, 67, 68, 69, 70, 71, 72, 73, 74, 75, 76, 77, 78, 79, 80, 81, 82, 83, 84, 85, 86, 87, 88, 89];
const INSET_Y_TICKS = [-150, -100, -50, 0, 50, 100, 150, 200, 250, 300, 350, 400, 450, 500, 550, 600, 650, 700,
  750, 800, 850, 900, 950, 1000, 1050, 1100, 1150];

const CURSOR_X = 10.29356;
const CURSOR_LABEL = '10.29356';
const BETA_LABEL = 'beta  100.00';
const DIFF_OFFSET_MAIN = -2280;
const REFL_Y_MAIN = -3870;
const REFL_Y_INSET = -176;

// ---------------- helpers ----------------
const FONT = "'Liberation Sans', Arial, sans-serif";
const nf = new Intl.NumberFormat('en-US');
const X_ALL = ([] as number[]).concat(X_1, X_2, X_3, X_4, X_5, X_6, X_7, X_8);
const OBS_ALL = ([] as number[]).concat(OBS_1, OBS_2, OBS_3, OBS_4, OBS_5, OBS_6, OBS_7, OBS_8);
const CALC_ALL = ([] as number[]).concat(CALC_1, CALC_2, CALC_3, CALC_4, CALC_5, CALC_6, CALC_7, CALC_8);
const REFL_ALL = ([] as number[]).concat(REFL_LOW, REFL_HIGH);

function series(kind: 'obs' | 'calc' | 'diff', offset = 0) {
  const n = Math.min(X_ALL.length, OBS_ALL.length, CALC_ALL.length);
  const out: { x: number; y: number }[] = [];
  for (let i = 0; i < n; i++) {
    const y = kind === 'obs' ? OBS_ALL[i] : kind === 'calc' ? CALC_ALL[i] : OBS_ALL[i] - CALC_ALL[i] + offset;
    out.push({ x: X_ALL[i], y });
  }
  return out;
}

function lineDs(data: any[], color: string, width: number, order: number) {
  return { type: 'line', data, borderColor: color, borderWidth: width, pointRadius: 0, tension: 0, order, fill: false };
}

function reflDs(yv: number, radius: number) {
  return {
    type: 'line', data: REFL_ALL.map((x) => ({ x, y: yv })), showLine: false,
    pointStyle: 'line', pointRotation: 90, pointRadius: radius, pointBorderColor: '#0a0aff',
    pointBorderWidth: 1.5, borderColor: '#0a0aff', order: 6,
  };
}

function axisPlugin(o: {
  yColor: string; xColor: string; yMinor: number; yMajor: number; xMinor: number; xMajor: number;
  yMajorLen: number; yMinorLen: number; xMajorLen: number; xMinorLen: number; ymin: number; ymax: number;
  xmin: number; xmax: number; cursor?: boolean; beta?: boolean;
}) {
  return {
    id: 'axes' + (o.cursor ? 'Main' : 'Inset'),
    beforeDatasetsDraw(chart: any) {
      const { ctx, chartArea: a, scales } = chart;
      const xs = scales.x, ys = scales.y;
      ctx.save();
      ctx.strokeStyle = o.yColor;
      ctx.lineWidth = 1.5;
      ctx.beginPath();
      ctx.moveTo(a.left, a.top);
      ctx.lineTo(a.left, a.bottom);
      ctx.stroke();
      ctx.lineWidth = 1;
      ctx.beginPath();
      const ys0 = Math.ceil(o.ymin / o.yMinor) * o.yMinor;
      for (let v = ys0; v <= o.ymax; v += o.yMinor) {
        const py = Math.round(ys.getPixelForValue(v)) + 0.5;
        const major = Math.abs(v % o.yMajor) < 1e-6;
        ctx.moveTo(a.left - (major ? o.yMajorLen : o.yMinorLen), py);
        ctx.lineTo(a.left, py);
      }
      ctx.stroke();
      ctx.strokeStyle = o.xColor;
      ctx.lineWidth = 1.5;
      ctx.beginPath();
      ctx.moveTo(a.left, a.bottom);
      ctx.lineTo(a.right, a.bottom);
      ctx.stroke();
      ctx.lineWidth = 1;
      ctx.beginPath();
      const n = Math.round((o.xmax - o.xmin) / o.xMinor);
      for (let i = 0; i <= n; i++) {
        const v = o.xmin + i * o.xMinor;
        if (v > o.xmax + 1e-9) break;
        const px = Math.round(xs.getPixelForValue(v)) + 0.5;
        const r = v / o.xMajor;
        const major = Math.abs(r - Math.round(r)) < 1e-6;
        ctx.moveTo(px, a.bottom);
        ctx.lineTo(px, a.bottom + (major ? o.xMajorLen : o.xMinorLen));
      }
      ctx.stroke();
      ctx.restore();
    },
    afterDatasetsDraw(chart: any) {
      const { ctx, chartArea: a, scales } = chart;
      ctx.save();
      if (o.cursor) {
        const px = scales.x.getPixelForValue(CURSOR_X);
        ctx.strokeStyle = '#3030ff';
        ctx.lineWidth = 1.2;
        ctx.beginPath();
        ctx.moveTo(px, a.top);
        ctx.lineTo(px, a.bottom);
        ctx.stroke();
        ctx.fillStyle = '#3a3aff';
        ctx.font = `8.5px ${FONT}`;
        ctx.textBaseline = 'middle';
        ctx.textAlign = 'left';
        ctx.fillText(CURSOR_LABEL, px + 1.5, a.top + 8.5);
      }
      if (o.beta) {
        ctx.fillStyle = '#3a3aff';
        ctx.font = `5px ${FONT}`;
        ctx.textBaseline = 'middle';
        ctx.textAlign = 'left';
        ctx.fillText(BETA_LABEL, 998, 17);
      }
      ctx.restore();
    },
  };
}

function mainConfig(): any {
  return {
    type: 'line',
    data: {
      datasets: [
        lineDs(series('calc'), '#ff0000', 1.6, 1),
        lineDs(series('obs'), '#0000ff', 1.6, 2),
        lineDs(series('diff', DIFF_OFFSET_MAIN), '#7a7a7a', 1, 3),
        lineDs([{ x: 4, y: DIFF_OFFSET_MAIN }, { x: 89.35, y: DIFF_OFFSET_MAIN }], '#8c8c8c', 1.5, 4),
        reflDs(REFL_Y_MAIN, 3.5),
      ],
    },
    options: {
      animation: false, responsive: false, maintainAspectRatio: false, events: [],
      layout: { padding: { top: 79, left: 0, right: 0, bottom: 0 } },
      plugins: { legend: { display: false }, tooltip: { enabled: false } },
      scales: {
        x: {
          type: 'linear', min: 4, max: 89.35,
          afterBuildTicks: (s: any) => { s.ticks = MAIN_X_TICKS.map((v) => ({ value: v })); },
          afterFit: (s: any) => { s.height = 15.5; },
          grid: { display: false, drawTicks: false }, border: { display: false },
          ticks: { autoSkip: false, maxRotation: 0, minRotation: 0, padding: 5, color: '#222',
            font: { family: FONT, size: 8.5 }, callback: (v: number) => nf.format(v) },
        },
        y: {
          type: 'linear', min: -4000, max: 16350,
          afterBuildTicks: (s: any) => { s.ticks = MAIN_Y_TICKS.map((v) => ({ value: v })); },
          afterFit: (s: any) => { s.width = 38; },
          grid: { display: false, drawTicks: false }, border: { display: false },
          ticks: { autoSkip: false, padding: 4, color: '#222',
            font: { family: FONT, size: 8.5 }, callback: (v: number) => nf.format(v) },
        },
      },
    },
    plugins: [axisPlugin({
      yColor: '#808080', xColor: '#222', yMinor: 100, yMajor: 500, xMinor: 0.5, xMajor: 2,
      yMajorLen: 3, yMinorLen: 1.5, xMajorLen: 4, xMinorLen: 2, ymin: -4000, ymax: 16350,
      xmin: 4, xmax: 89.35, cursor: true,
    })],
  };
}

function insetConfig(): any {
  return {
    type: 'line',
    data: {
      datasets: [
        lineDs(series('calc'), '#ff0000', 1.5, 1),
        lineDs(series('obs'), '#0000ff', 1.4, 2),
        lineDs(series('diff', 0), '#7a7a7a', 1, 3),
        lineDs([{ x: 39.75, y: 0 }, { x: 89.47, y: 0 }], '#9a9a9a', 1.5, 4),
        reflDs(REFL_Y_INSET, 3),
      ],
    },
    options: {
      animation: false, responsive: false, maintainAspectRatio: false, events: [],
      layout: { padding: { top: 10, left: 0, right: 0, bottom: 0 } },
      plugins: { legend: { display: false }, tooltip: { enabled: false } },
      scales: {
        x: {
          type: 'linear', min: 39.75, max: 89.47,
          afterBuildTicks: (s: any) => { s.ticks = INSET_X_TICKS.map((v) => ({ value: v })); },
          afterFit: (s: any) => { s.height = 19.3; },
          grid: { display: false, drawTicks: false }, border: { display: false },
          ticks: { autoSkip: false, maxRotation: 0, minRotation: 0, padding: 5, color: '#555',
            font: { family: FONT, size: 5 }, callback: (v: number) => nf.format(v) },
        },
        y: {
          type: 'linear', min: -187, max: 1173,
          afterBuildTicks: (s: any) => { s.ticks = INSET_Y_TICKS.map((v) => ({ value: v })); },
          afterFit: (s: any) => { s.width = 48; },
          grid: { display: false, drawTicks: false }, border: { display: false },
          ticks: { autoSkip: false, padding: 3.5, color: '#555',
            font: { family: FONT, size: 5 }, callback: (v: number) => nf.format(v) },
        },
      },
    },
    plugins: [axisPlugin({
      yColor: '#333', xColor: '#333', yMinor: 10, yMajor: 50, xMinor: 0.2, xMajor: 1,
      yMajorLen: 2.5, yMinorLen: 1, xMajorLen: 3, xMinorLen: 1.5, ymin: -187, ymax: 1173,
      xmin: 39.8, xmax: 89.47, beta: true,
    })],
  };
}

export default function App() {
  const mainRef = useRef<HTMLCanvasElement>(null);
  const insetRef = useRef<HTMLCanvasElement>(null);
  useEffect(() => {
    document.body.style.margin = '0';
    const c1 = new Chart(mainRef.current as HTMLCanvasElement, mainConfig());
    const c2 = new Chart(insetRef.current as HTMLCanvasElement, insetConfig());
    return () => { c1.destroy(); c2.destroy(); };
  }, []);
  return (
    <div style={{ position: 'relative', width: 1717, height: 644, background: '#ffffff', overflow: 'hidden' }}>
      <canvas ref={mainRef} width={1717} height={644}
        style={{ position: 'absolute', left: 0, top: 0, width: 1717, height: 644 }} />
      <canvas ref={insetRef} width={1027} height={420}
        style={{ position: 'absolute', left: 690, top: 0, width: 1027, height: 420 }} />
    </div>
  );
}
